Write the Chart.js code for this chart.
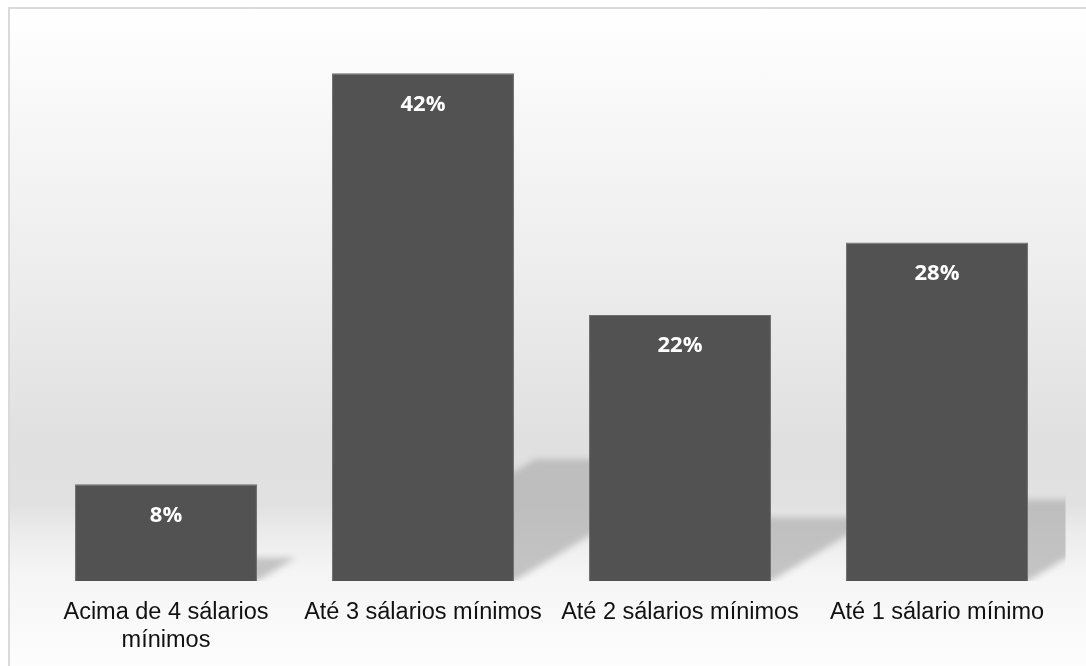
<!DOCTYPE html>
<html>
<head>
<meta charset="utf-8">
<script src="https://cdn.jsdelivr.net/npm/chart.js@4"></script>
<style>
    html, body { margin: 0; padding: 0; background: #ffffff; overflow: hidden; }
    #frame {
        position: absolute; left: 8px; top: 7px; width: 1100px; height: 680px;
        border-top: 2px solid #dadada; border-left: 2px solid #dadada;
        background: linear-gradient(to bottom, #ffffff 0px, #f7f7f7 113px, #ebebeb 293px,
            #e0e0e0 433px, #e1e1e1 495px, #ececec 525px, #f5f5f5 565px, #fbfbfb 633px, #ffffff 680px);
    }
    #wrap { position: absolute; left: 0; top: 0; width: 1086px; height: 666px; }
</style>
</head>
<body>
<div id="frame"></div>
<div id="wrap"><canvas id="chart"></canvas></div>
<script>
const categories = [
    ['Acima de 4 sálarios', 'mínimos'],
    'Até 3 sálarios mínimos',
    'Até 2 sálarios mínimos',
    'Até 1 sálario mínimo'
];
const percentages = [8, 42, 22, 28];
const valueLabels = ['8%', '42%', '22%', '28%'];

// perspective shadow behind each bar, falling to the right
const barShadow = {
    id: 'barShadow',
    beforeDatasetsDraw(chart) {
        const ctx = chart.ctx;
        const area = chart.chartArea;
        ctx.save();
        ctx.beginPath();
        ctx.rect(area.left, area.top, area.right - area.left, area.bottom - area.top);
        ctx.clip();
        ctx.filter = 'blur(3px)';
        ctx.fillStyle = 'rgba(176, 176, 176, 0.72)';
        chart.getDatasetMeta(0).data.forEach(bar => {
            const p = bar.getProps(['x', 'y', 'base', 'width'], true);
            const left = p.x - p.width / 2;
            const right = p.x + p.width / 2;
            const sh = (p.base - p.y) * 0.24;
            const shear = sh / 0.6;
            ctx.beginPath();
            ctx.moveTo(left, p.base);
            ctx.lineTo(right, p.base);
            ctx.lineTo(right + shear, p.base - sh);
            ctx.lineTo(left + shear, p.base - sh);
            ctx.closePath();
            ctx.fill();
        });
        ctx.restore();
    }
};

const valueLabelPlugin = {
    id: 'valueLabels',
    afterDatasetsDraw(chart) {
        const ctx = chart.ctx;
        ctx.save();
        ctx.fillStyle = '#ffffff';
        ctx.font = 'bold 22px "Open Sans"';
        ctx.textAlign = 'center';
        ctx.textBaseline = 'middle';
        chart.getDatasetMeta(0).data.forEach((bar, i) => {
            ctx.fillText(valueLabels[i], bar.x, bar.y + 31);
        });
        ctx.restore();
    }
};

const ctx = document.getElementById('chart').getContext('2d');

new Chart(ctx, {
    type: 'bar',
    data: {
        labels: categories,
        datasets: [{
            data: percentages,
            backgroundColor: '#525252',
            borderColor: '#6e6e6e',
            borderWidth: 1,
            categoryPercentage: 1,
            barPercentage: 0.708
        }]
    },
    options: {
        responsive: true,
        maintainAspectRatio: false,
        animation: false,
        layout: {
            padding: { left: 37.5, right: 20.5, top: 25, bottom: 0 }
        },
        scales: {
            x: {
                grid: { display: false, drawTicks: false },
                border: { display: false },
                ticks: {
                    color: '#111111',
                    padding: 17,
                    maxRotation: 0,
                    autoSkip: false,
                    font: { family: '"Liberation Sans", Arial', size: 23.5, lineHeight: 1.2 }
                },
                afterFit(scale) {
                    scale.height = 85;
                }
            },
            y: {
                display: false,
                min: 0,
                max: 46
            }
        },
        plugins: {
            legend: { display: false },
            tooltip: { enabled: false }
        }
    },
    plugins: [barShadow, valueLabelPlugin]
});
</script>
</body>
</html>
